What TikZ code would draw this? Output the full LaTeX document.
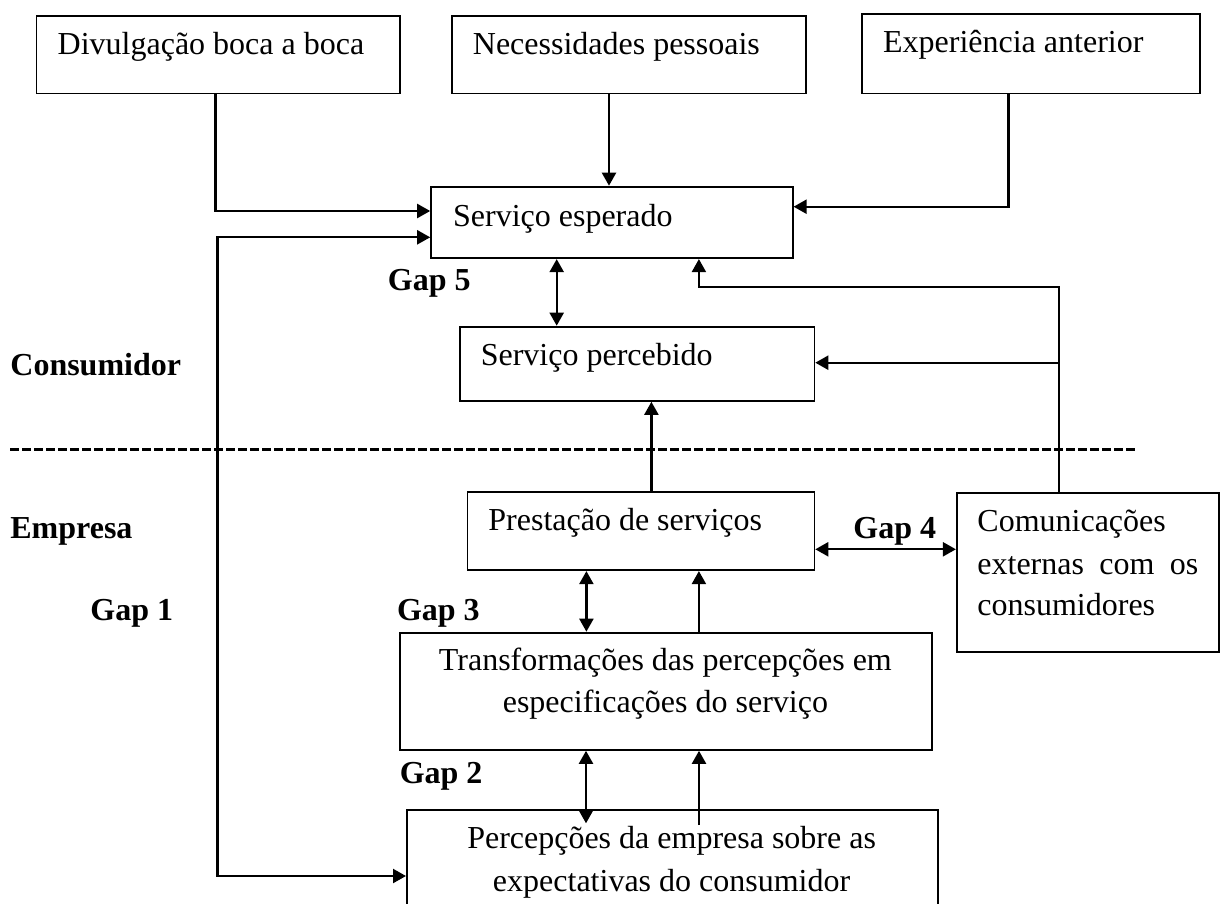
\documentclass[tikz,border=0pt]{standalone}
\usepackage{fontspec}
\setmainfont{Liberation Serif}
\usetikzlibrary{arrows.meta,calc}
\begin{document}
\begin{tikzpicture}[x=0.5pt,y=-0.5pt,
  box/.style={draw,line width=0.9pt,rectangle,inner sep=0pt,anchor=north west},
  txt/.style={inner sep=0pt,font=\fontsize{16}{21.3}\selectfont},
  lbl/.style={inner sep=0pt,anchor=base west,font=\fontsize{16}{21.3}\selectfont\bfseries},
  conn/.style={line width=1.1pt,-{Triangle[length=6.5pt,width=7pt]}},
  conn2/.style={line width=1.1pt,{Triangle[length=6.5pt,width=7pt]}-{Triangle[length=6.5pt,width=7pt]}},
  divider/.style={line width=1.6pt,dash pattern=on 4.5pt off 1.5pt}
]
\useasboundingbox (0,0) rectangle (1220,904);
\clip (0,0) rectangle (1220,904);

% boxes
\node[box,minimum width=181.9pt,minimum height=38.85pt] (div) at (35.6,15) {};
\node[box,minimum width=177pt,minimum height=38.85pt] (nec) at (450.8,15) {};
\node[box,minimum width=169pt,minimum height=39.7pt] (exp) at (861,13.3) {};
\node[box,minimum width=180.8pt,minimum height=35.8pt] (esp) at (430.2,185.7) {};
\node[box,minimum width=177.4pt,minimum height=37.15pt] (perc) at (458.7,325.7) {};
\node[box,minimum width=173.45pt,minimum height=39.3pt] (prest) at (466.6,490.7) {};
\node[box,minimum width=131pt,minimum height=79.5pt] (com) at (955.9,491.7) {};
\node[box,minimum width=265.95pt,minimum height=58.65pt] (trans) at (399.4,631.7) {};
\node[box,minimum width=265.6pt,minimum height=60pt] (percep) at (406,809.3) {};

% box texts
\node[txt,anchor=base west] (divT) at (57.3,55) {Divulgação boca a boca};
\node[txt,anchor=base west] (necT) at (472.5,55) {Necessidades pessoais};
\node[txt,anchor=base west] (expT) at (882.7,52.7) {Experiência anterior};
\node[txt,anchor=base west] (espT) at (452.7,226) {Serviço esperado};
\node[txt,anchor=base west] (percT) at (480.4,365) {Serviço percebido};
\node[txt,anchor=base west] (prestT) at (488,530) {Prestação de serviços};
\node[txt,anchor=base west] (comT1) at (977,531) {Comunicações};
\node[txt,anchor=base west] (comT2) at (977,574.5) {\makebox[110.5pt][s]{externas com os}};
\node[txt,anchor=base west] (comT3) at (977,615.5) {consumidores};
\node[txt,anchor=base] (transT1) at (665.4,670) {Transformações das percepções em};
\node[txt,anchor=base] (transT2) at (665.4,712.7) {especificações do serviço};
\node[txt,anchor=base] (percepT1) at (671.6,848.3) {Percepções da empresa sobre as};
\node[txt,anchor=base] (percepT2) at (671.6,891.7) {expectativas do consumidor};

% labels
\node[lbl] (gap5) at (387.5,290) {Gap 5};
\node[lbl] (consumidor) at (10,375) {Consumidor};
\node[lbl] (empresa) at (10,538) {Empresa};
\node[lbl] (gap1) at (90,620) {Gap 1};
\node[lbl] (gap3) at (396.6,620) {Gap 3};
\node[lbl] (gap4) at (853,538) {Gap 4};
\node[lbl] (gap2) at (399.4,783.3) {Gap 2};

% divider
\coordinate (dl) at (10,449.5);
\coordinate (dr) at (1138,449.5);
\draw[divider] (dl) -- (dr);

% connectors
\coordinate (branch) at (1058.7,362.7);
\coordinate (g2end) at (586,823.3);
\coordinate (pstart) at (699,825);
\draw[conn] (nec.south -| 609,0) -- (esp.north -| 609,0);
\draw[conn] (div.south -| 215.5,0) |- (esp.west |- 0,211);
\draw[conn] (exp.south -| 1008.4,0) |- (esp.east |- 0,206.7);
\draw[conn2] (esp.west |- 0,237.3) -| (217.5,876) -- (percep.west |- 0,876);
\draw[conn2] (esp.south -| 556.7,0) -- (perc.north -| 556.7,0);
\draw[conn] (com.north -| 1058.7,0) |- (698.9,287.3) -- (esp.south -| 698.9,0);
\draw[conn] (branch) -- (perc.east |- branch);
\draw[conn] (prest.north -| 651.4,0) -- (perc.south -| 651.4,0);
\draw[conn2] (prest.east |- 0,549.3) -- (com.west |- 0,549.3);
\draw[conn2] (prest.south -| 586.4,0) -- (trans.north -| 586.4,0);
\draw[conn] (trans.north -| 698.9,0) -- (prest.south -| 698.9,0);
\draw[conn2] (trans.south -| g2end) -- (g2end);
\draw[conn] (pstart) -- (trans.south -| pstart);
\end{tikzpicture}
\end{document}
